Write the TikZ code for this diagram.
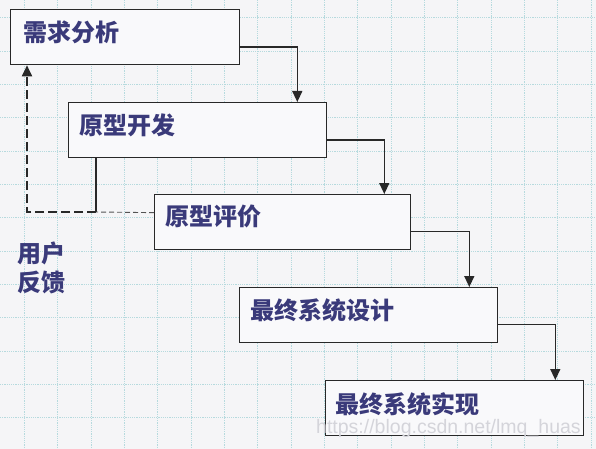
\documentclass[tikz,border=0pt]{standalone}
\usepackage{fontspec}
\setmainfont{Liberation Sans}
\newfontfamily\cjk{Noto Sans CJK SC}
\usetikzlibrary{arrows.meta}

\definecolor{paper}{RGB}{245,245,247}
\definecolor{boxfill}{RGB}{249,249,251}
\definecolor{gridline}{RGB}{182,218,222}
\definecolor{inkline}{RGB}{40,40,40}
\definecolor{navy}{RGB}{58,58,122}
\definecolor{markgray}{RGB}{212,212,218}

\tikzset{
  stagebox/.style={draw=inkline, fill=boxfill, line width=1.3pt, rectangle,
    minimum width=#1, minimum height=55pt, inner sep=0pt, anchor=north west},
  stagetext/.style={font=\cjk\bfseries\fontsize{24}{29}\selectfont,
    text=navy, inner sep=0pt, anchor=west},
  flow/.style={draw=inkline, line width=1.3pt,
    -{Triangle[length=11pt,width=10pt]}},
  gridrule/.style={draw=gridline, line width=0.8pt, dash pattern=on 1.2pt off 1pt},
  backdash/.style={draw=inkline, line width=1.8pt, dash pattern=on 9pt off 4pt,
    -{Triangle[length=11pt,width=10pt]}},
  lightdash/.style={draw=inkline!80, line width=0.9pt, dash pattern=on 5pt off 3pt},
  watermark/.style={font=\fontsize{19.5}{22}\selectfont, text=markgray,
    inner sep=0pt, anchor=base west}
}

\begin{document}
\begin{tikzpicture}[x=1pt,y=-1pt]
  % page
  \fill[paper] (0,0) rectangle (596,449);
  \useasboundingbox (0,0) rectangle (596,449);

  % squared paper
  \foreach \i in {0,...,17} {
    \draw[gridrule] (24.3+33.33*\i,0) -- (24.3+33.33*\i,449);
  }
  \foreach \j in {0,...,12} {
    \draw[gridrule] (0,17.7+33.33*\j) -- (596,17.7+33.33*\j);
  }

  % the five stages
  \node[stagebox=229pt] (b1) at (10,9)   {};
  \node[stagebox=258pt] (b2) at (68,102) {};
  \node[stagebox=256pt] (b3) at (154,194){};
  \node[stagebox=258pt] (b4) at (239,287){};
  \node[stagebox=258pt] (b5) at (325,380){};

  \node[stagetext, xshift=13pt, yshift=4.5pt] (t1) at (b1.west) {需求分析};
  \node[stagetext, xshift=11pt, yshift=4.5pt] (t2) at (b2.west) {原型开发};
  \node[stagetext, xshift=11pt, yshift=5.5pt] (t3) at (b3.west) {原型评价};
  \node[stagetext, xshift=11pt, yshift=4.5pt] (t4) at (b4.west) {最终系统设计};
  \node[stagetext, xshift=10pt, yshift=4pt]   (t5) at (b5.west) {最终系统实现};

  % forward flow between stages
  \draw[flow] ([yshift=-10pt]b1.east) -| ([xshift=-30pt]b2.north east);
  \draw[flow] ([yshift=-10pt]b2.east) -| ([xshift=-27pt]b3.north east);
  \draw[flow] ([yshift=-9pt]b3.east)  -| ([xshift=-29pt]b4.north east);
  \draw[flow] ([yshift=-9pt]b4.east)  -| ([xshift=-29pt]b5.north east);

  % user feedback loop
  \coordinate (fb) at (96,212);
  \draw[draw=inkline, line width=1.3pt] (b2.south -| fb) -- (fb);
  \draw[lightdash] ([yshift=9.5pt]b3.west) -- (fb);
  \draw[backdash] (fb) -| ([xshift=17pt]b1.south west);

  \node[stagetext] (u1) at (17,253) {用户};
  \node[stagetext] (u2) at (17,282) {反馈};

  % site mark
  \node[watermark] (wm) at (316,433) {https://blog.csdn.net/lmq\_huas};
\end{tikzpicture}
\end{document}
